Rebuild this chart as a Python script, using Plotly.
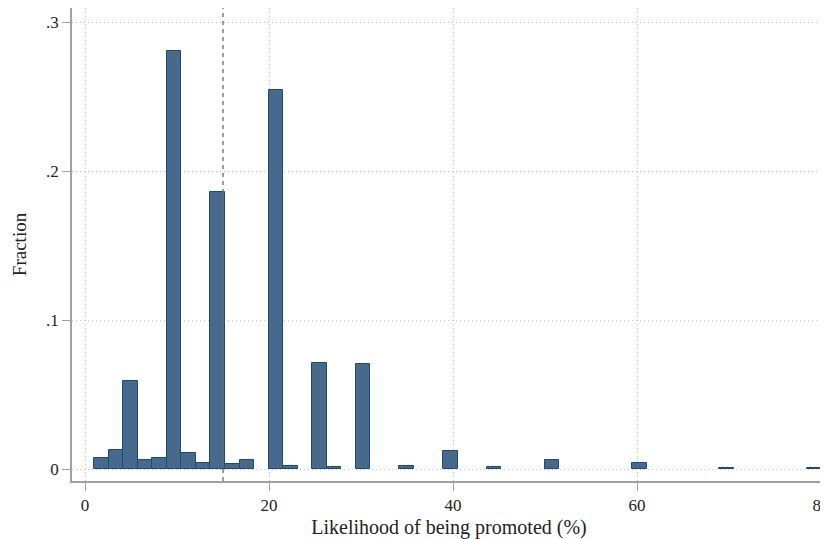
import plotly.graph_objects as go

# Histogram: 50 bins from 1 to 80 (width 1.58)
bin_start = 1.0
bin_width = 1.58
fractions = [0.0072, 0.0130, 0.0593, 0.0063, 0.0072, 0.2807, 0.0105, 0.0038, 0.1857, 0.0036,
             0.0063, 0.0, 0.2541, 0.0020, 0.0, 0.0709, 0.0013, 0.0, 0.0703, 0.0,
             0.0, 0.0020, 0.0, 0.0, 0.0120, 0.0, 0.0, 0.0011, 0.0, 0.0,
             0.0, 0.0062, 0.0, 0.0, 0.0, 0.0, 0.0, 0.0040, 0.0, 0.0,
             0.0, 0.0, 0.0, 0.0010, 0.0, 0.0, 0.0, 0.0, 0.0, 0.0010]
ref_line = 15
x_ticks = [0, 20, 40, 60, 80]
y_ticks = [0, 0.1, 0.2, 0.3]
y_ticktext = ["0", ".1", ".2", ".3"]

centers = [bin_start + bin_width * (i + 0.5) for i, f in enumerate(fractions) if f > 0]
heights = [f for f in fractions if f > 0]

font = "Liberation Serif"

fig = go.Figure()
fig.add_trace(go.Bar(
    x=centers, y=heights, width=bin_width,
    marker=dict(color="#476a8c", line=dict(color="#1f4a73", width=1)),
))

fig.add_shape(type="line", xref="x", yref="paper", x0=ref_line, x1=ref_line, y0=0, y1=1,
              line=dict(color="#707070", width=1.4, dash="4px,4px"), layer="above")

# page body adds an 8px offset; the figure is sized to compensate
fig.update_layout(
    width=820, height=531,
    margin=dict(l=64, r=2, t=0, b=58),
    paper_bgcolor="white", plot_bgcolor="white",
    showlegend=False, bargap=0,
    font=dict(family=font, size=18, color="#222"),
)
grid = dict(showgrid=True, gridcolor="#c4c4c4", griddash="1px,3px", gridwidth=1, zeroline=False)
fig.update_xaxes(
    range=[-1.413, 80.54], tickvals=x_ticks, ticks="outside", ticklen=8, tickcolor="#a0a0a0",
    showline=True, linecolor="#a0a0a0", linewidth=1.5, automargin=False,
    ticklabeloverflow="allow",
    title=dict(text="Likelihood of being promoted (%)", font=dict(size=20), standoff=8),
    tickfont=dict(size=17), **grid,
)
fig.update_yaxes(
    range=[-0.00805, 0.3094], tickvals=y_ticks, ticktext=y_ticktext, ticks="outside", ticklen=8,
    tickcolor="#a0a0a0", showline=True, linecolor="#a0a0a0", linewidth=1.5, automargin=False,
    title=dict(text="Fraction", font=dict(size=19), standoff=14),
    tickfont=dict(size=17), **grid,
)

fig.write_html("out.html")
